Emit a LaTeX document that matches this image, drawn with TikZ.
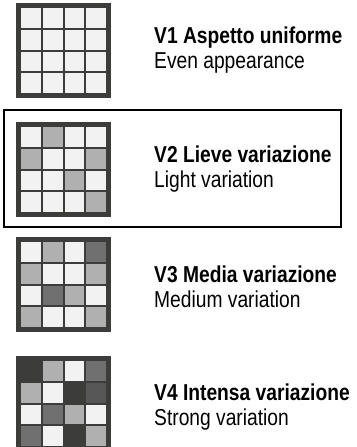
\documentclass[tikz,border=0pt]{standalone}
\usepackage{fontspec}
\setmainfont{Liberation Sans}[FakeStretch=0.836]
\definecolor{gbd}{HTML}{3C3C3A}
\definecolor{gw}{HTML}{F2F2F2}
\definecolor{gl}{HTML}{B0B0B0}
\definecolor{gm}{HTML}{707070}
\definecolor{gk}{HTML}{575757}
\begin{document}
\begin{tikzpicture}[x=1pt,y=-1pt,
  gridbox/.style={fill=gbd},
  title/.style={anchor=base west,inner sep=0pt,font=\fontsize{23}{26}\selectfont\bfseries},
  sub/.style={anchor=base west,inner sep=0pt,font=\fontsize{23}{26}\selectfont},
  frame/.style={draw=black,line width=2pt}]
\useasboundingbox (0,0) rectangle (356,447);
\fill[white] (0,0) rectangle (356,447);
% grid macro
\newcommand{\mygrid}[3]{% #1 top y, #2 name, #3 list of colours row-major
  \fill[gbd] (16,#1) rectangle (111,#1+95);
  \foreach \c [count=\i from 0] in {#3} {
    \pgfmathsetmacro{\cx}{21+mod(\i,4)*21.75}
    \pgfmathsetmacro{\cy}{#1+5+floor(\i/4)*21.75}
    \fill[\c] (\cx,\cy) rectangle ++(19.75,19.75);
  }
  \coordinate (#2) at (63.5,#1+47.5);
}
\draw[frame] (4,110) rectangle (341,227);
\mygrid{3}{g1}{gw,gw,gw,gw,gw,gw,gw,gw,gw,gw,gw,gw,gw,gw,gw,gw}
\mygrid{122}{g2}{gw,gl,gw,gw,gl,gw,gw,gl,gw,gw,gl,gw,gw,gw,gw,gl}
\mygrid{237}{g3}{gw,gl,gw,gm,gl,gw,gw,gl,gw,gm,gl,gw,gl,gw,gw,gl}
\mygrid{356}{g4}{gbd,gl,gw,gm,gl,gw,gbd,gk,gw,gm,gl,gw,gm,gw,gbd,gl}
\node[title] (t1) at (154,43) {V1 Aspetto uniforme};
\node[sub] (s1) at (154,68) {Even appearance};
\node[title] (t2) at (154,162) {V2 Lieve variazione};
\node[sub] (s2) at (154,187) {Light variation};
\node[title] (t3) at (154,282) {V3 Media variazione};
\node[sub] (s3) at (154,307) {Medium variation};
\node[title] (t4) at (154,400) {V4 Intensa variazione};
\node[sub] (s4) at (154,425) {Strong variation};
\end{tikzpicture}
\end{document}
